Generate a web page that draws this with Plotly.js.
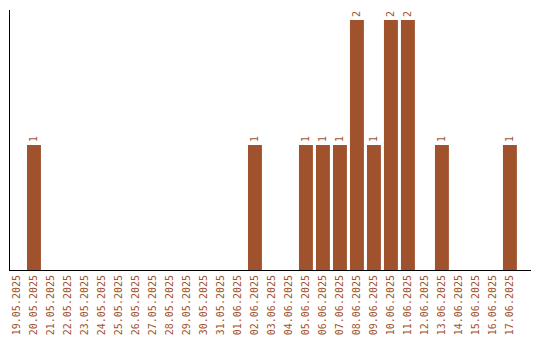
<!DOCTYPE html>
<html>
<head>
<meta charset="utf-8">
<script src="https://cdn.plot.ly/plotly-3.0.1.min.js"></script>
<style>html,body{margin:0;padding:0;background:#fff;}#chart{width:540px;height:340px;}</style>
</head>
<body>
<div id="chart"></div>
<script>
var dates = ["19.05.2025","20.05.2025","21.05.2025","22.05.2025","23.05.2025","24.05.2025","25.05.2025","26.05.2025","27.05.2025","28.05.2025","29.05.2025","30.05.2025","31.05.2025","01.06.2025","02.06.2025","03.06.2025","04.06.2025","05.06.2025","06.06.2025","07.06.2025","08.06.2025","09.06.2025","10.06.2025","11.06.2025","12.06.2025","13.06.2025","14.06.2025","15.06.2025","16.06.2025","17.06.2025"];
var counts = [0,1,0,0,0,0,0,0,0,0,0,0,0,0,1,0,0,1,1,1,2,1,2,2,0,1,0,0,0,1];
var labels = counts.map(function(v){ return v > 0 ? String(v) : ""; });

var trace = {
  type: "bar",
  x: dates,
  y: counts,
  text: labels,
  textposition: "outside",
  textangle: -90,
  cliponaxis: false,
  textfont: {family: "DejaVu Sans Mono", size: 10, color: "#a0522d"},
  marker: {color: "#a0522d"},
  hoverinfo: "none"
};

var layout = {
  width: 540, height: 340,
  margin: {l: 10, r: 9, t: 10, b: 70},
  paper_bgcolor: "#fff", plot_bgcolor: "#fff",
  showlegend: false,
  bargap: 0.18,
  font: {family: "DejaVu Sans Mono", size: 10, color: "#a0522d"},
  xaxis: {
    type: "category",
    range: [-0.41, 30.24],
    showline: true, linecolor: "#000", linewidth: 1,
    showgrid: false, zeroline: false,
    ticks: "", tickangle: -90,
    tickfont: {family: "DejaVu Sans Mono", size: 10, color: "#a0522d"},
    fixedrange: true
  },
  yaxis: {
    range: [0, 2.08],
    showline: true, linecolor: "#000", linewidth: 1,
    showgrid: false, zeroline: false,
    showticklabels: false, ticks: "",
    fixedrange: true
  }
};

Plotly.newPlot("chart", [trace], layout, {displayModeBar: false, staticPlot: true});
</script>
</body>
</html>
